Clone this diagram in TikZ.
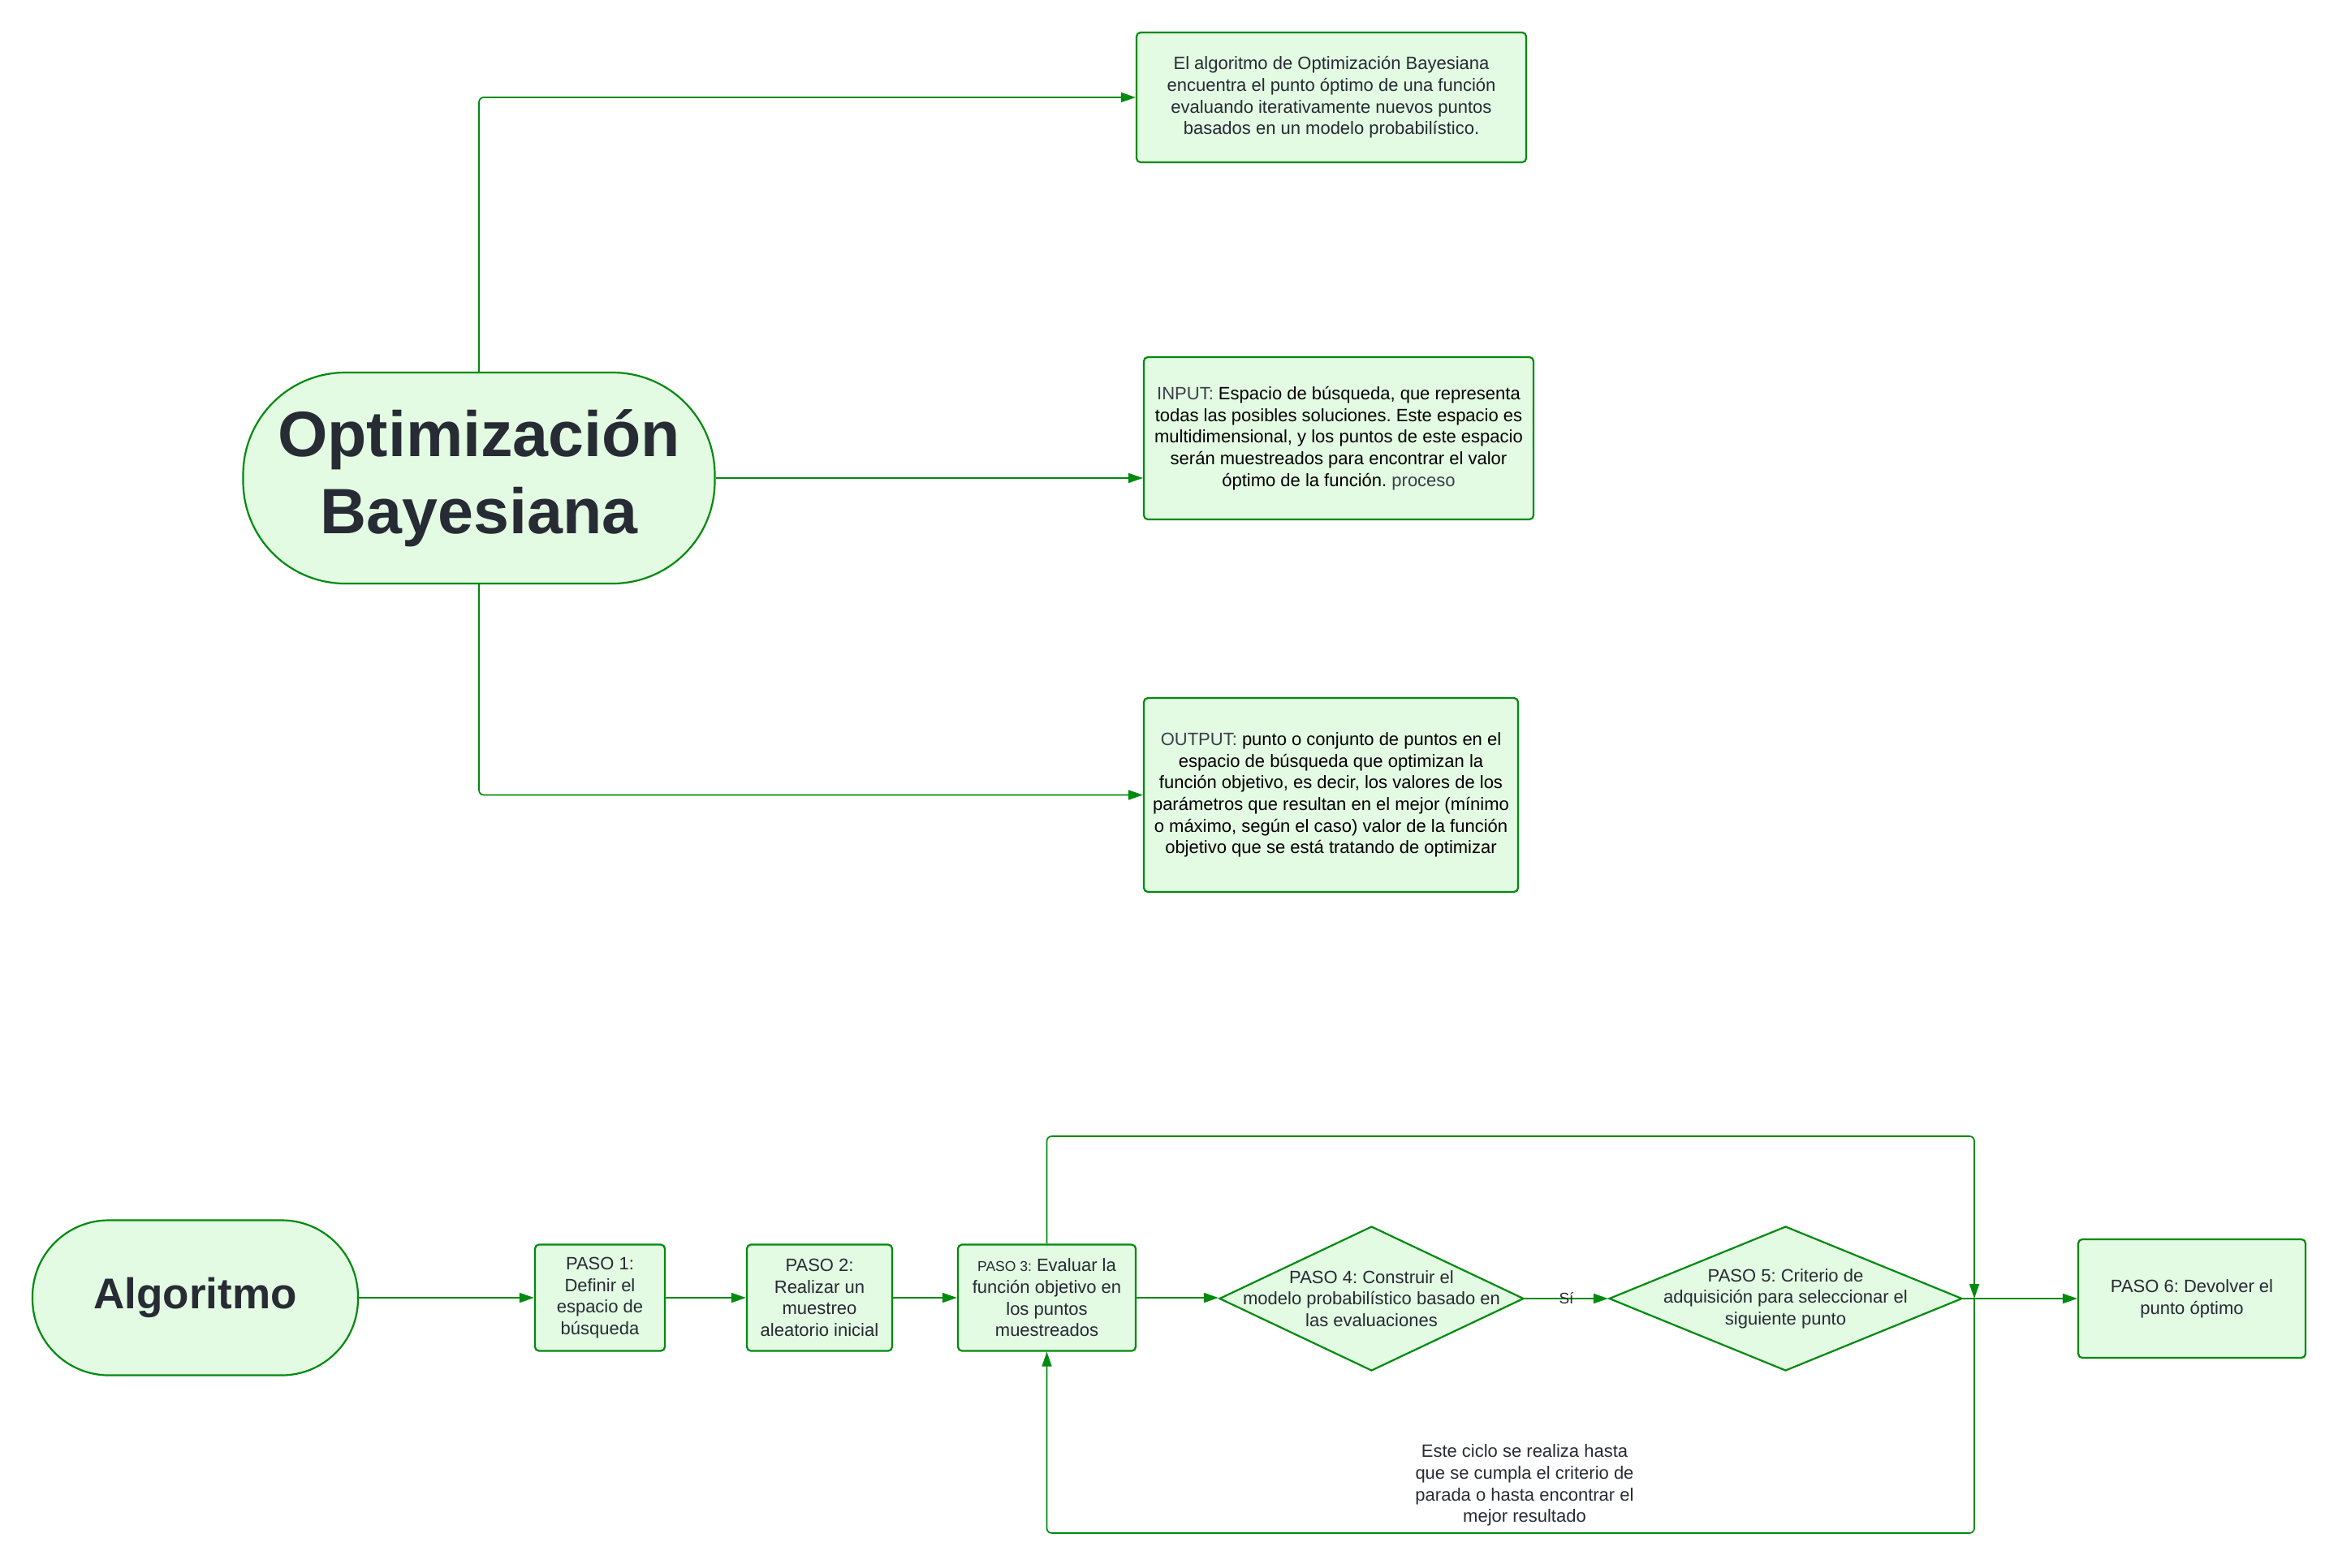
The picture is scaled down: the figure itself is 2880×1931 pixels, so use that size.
\documentclass[tikz,border=0pt]{standalone}
\usepackage{fontspec}
\setmainfont{Liberation Sans}
\usetikzlibrary{arrows.meta,shapes.geometric}
\definecolor{gline}{HTML}{008A0E}
\definecolor{gfill}{HTML}{E3FAE3}
\definecolor{tdark}{HTML}{272B33}
\definecolor{tgrey}{HTML}{3A3F47}
\tikzset{
  base/.style={draw=gline, fill=gfill, line width=2.2pt, inner sep=0pt},
  boxn/.style={base, rectangle, rounded corners=5pt},
  pill/.style={base, rectangle},
  dia/.style={base, diamond},
  txt/.style={align=center, text=tdark, font=\fontsize{22}{26.7}\selectfont},
  conn/.style={draw=gline, line width=1.7pt, -{Triangle[length=18pt,width=12pt]}},
}
\begin{document}
\frenchspacing
\begin{tikzpicture}[x=1pt,y=-1pt]
\useasboundingbox (0,0) rectangle (2880,1931);

% ---------- top part ----------
\node[pill, rounded corners=126pt, minimum width=581pt, minimum height=260pt] (opt) at (590,589) {};
\node[align=center, text=tdark, font=\fontsize{79}{95}\selectfont\bfseries] (optt) at (opt.center) {Optimización\\Bayesiana};

\node[boxn, minimum width=480pt, minimum height=160pt, txt] (b1) at (1640,120)
 {El algoritmo de Optimización Bayesiana\\encuentra el punto óptimo de una función\\evaluando iterativamente nuevos puntos\\basados en un modelo probabilístico.};

\node[boxn, minimum width=480pt, minimum height=200pt, txt] (b2) at (1649,540)
 {\textcolor{tgrey}{INPUT:} \textcolor{black}{Espacio de búsqueda, que representa}\\\textcolor{black}{todas las posibles soluciones. Este espacio es}\\\textcolor{black}{multidimensional, y los puntos de este espacio}\\\textcolor{black}{serán muestreados para encontrar el valor}\\\textcolor{black}{óptimo de la función.} \textcolor{tgrey}{proceso}};

\node[boxn, minimum width=461pt, minimum height=239pt, txt] (b3) at (1639.5,979.5)
 {\textcolor{tgrey}{OUTPUT:} \textcolor{black}{punto o conjunto de puntos en el}\\\textcolor{black}{espacio de búsqueda que optimizan la}\\\textcolor{black}{función objetivo, es decir, los valores de los}\\\textcolor{black}{parámetros que resultan en el mejor (mínimo}\\\textcolor{black}{o máximo, según el caso) valor de la función}\\\textcolor{black}{objetivo que se está tratando de optimizar}};

\draw[conn, rounded corners=6pt] (opt.north) |- (b1.west);
\draw[conn] (opt.east) -- (opt.east -| b2.west);
\draw[conn, rounded corners=6pt] (opt.south) |- (b3.west);

% ---------- bottom part ----------
\node[pill, rounded corners=94pt, minimum width=401pt, minimum height=191pt] (alg) at (240.5,1599) {};
\node[text=tdark, font=\fontsize{53}{64}\selectfont\bfseries] (algt) at (alg.center) {Algoritmo};

\node[boxn, minimum width=160pt, minimum height=131pt, txt] (p1) at (739,1599)
 {PASO 1:\\Definir el\\espacio de\\búsqueda};
\node[boxn, minimum width=179pt, minimum height=131pt, txt] (p2) at (1009.5,1599)
 {PASO 2:\\Realizar un\\muestreo\\aleatorio inicial};
\node[boxn, minimum width=219pt, minimum height=131pt, txt] (p3) at (1289.5,1599)
 {{\fontsize{17.5}{26.7}\selectfont PASO 3:} Evaluar la\\función objetivo en\\los puntos\\muestreados};

\node[dia, minimum width=375pt, minimum height=178pt] (p4) at (1689.5,1600) {};
\node[txt] (p4t) at (p4.center) {PASO 4: Construir el\\modelo probabilístico basado en\\las evaluaciones};

\node[dia, minimum width=435pt, minimum height=178pt] (p5) at (2199.5,1600) {};
\node[txt] (p5t) at (p5.center) {PASO 5: Criterio de\\adquisición para seleccionar el\\siguiente punto};

\node[boxn, minimum width=280pt, minimum height=146pt, txt] (p6) at (2700,1600)
 {PASO 6: Devolver el\\punto óptimo};

\coordinate (j) at (2432,1600);

\draw[conn] (alg.east) -- (alg.east -| p1.west);
\draw[conn] (p1.east) -- (p2.west);
\draw[conn] (p2.east) -- (p3.west);
\draw[conn] (p3.east) -- (p3.east -| p4.west);
\draw[conn] (p4.east) -- node[pos=0.5, text=tdark, font=\fontsize{19}{20}\selectfont, inner sep=1pt] (si) {Sí} (p5.west);
\draw[conn] (p5.east) -- (p6.west);
\draw[conn, rounded corners=6pt] (p3.north) -- (p3.north |- 0,1400) -| (j);
\draw[conn, rounded corners=6pt] (j) -- (j |- 0,1889) -| (p3.south);

\node[txt] (cap) at (1878,1830) {Este ciclo se realiza hasta\\que se cumpla el criterio de\\parada o hasta encontrar el\\mejor resultado};
\end{tikzpicture}
\end{document}
